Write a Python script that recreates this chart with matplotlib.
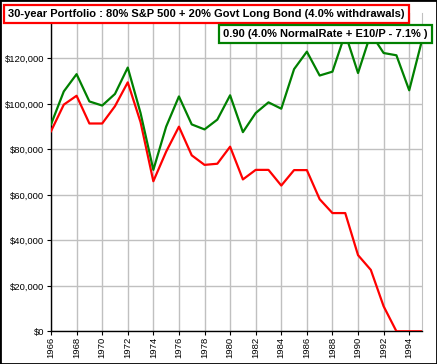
import matplotlib
matplotlib.use('Agg')
import matplotlib.pyplot as plt
from matplotlib.patches import Rectangle
from matplotlib.ticker import FuncFormatter

plt.rcParams['font.family'] = ['Liberation Sans', 'DejaVu Sans']

# 資料 (1966 - 1995)
years = list(range(1966, 1996))
fixed_rate = [88000, 99700, 103600, 91400, 91400, 99000, 109500, 92000, 66000, 79000,
              90000, 77400, 73200, 73700, 81200, 66800, 71000, 71000, 64100, 70900,
              70900, 58100, 52000, 52000, 33500, 27000, 11000, 0, 0, 0]
normal_rate = [91000, 105500, 113100, 101100, 99300, 104400, 116000, 96000, 71000, 90000,
               103300, 91000, 88800, 93100, 103800, 87600, 96000, 100700, 97900, 115300,
               123000, 112500, 114200, 131000, 113600, 131000, 122400, 121400, 106000, 128000]

yticks = [0, 20000, 40000, 60000, 80000, 100000, 120000]
xticks = list(range(1966, 1995, 2))

title1 = '30-year Portfolio : 80% S&P 500 + 20% Govt Long Bond (4.0% withdrawals)'
title2 = '0.90 (4.0% NormalRate + E10/P - 7.1% )'

fig = plt.figure(figsize=(4.37, 3.64), dpi=100)
ax = fig.add_axes([51 / 437, 1 - 331.3 / 364, (422 - 51) / 437, (331.3 - 13) / 364])

ax.plot(years, fixed_rate, color='#ff0000', linewidth=1.6, zorder=3)
ax.plot(years, normal_rate, color='#008000', linewidth=1.6, zorder=3)

ax.set_xlim(1966, 1995)
ax.set_ylim(0, 140000)
ax.set_xticks(xticks)
ax.set_yticks(yticks)
ax.yaxis.set_major_formatter(FuncFormatter(lambda v, p: '${:,.0f}'.format(v)))
ax.tick_params(axis='x', labelrotation=90, labelsize=6.8, length=3, width=0.8, pad=1)
ax.tick_params(axis='y', labelsize=6.8, length=3, width=0.8, pad=2)
ax.grid(True, color='#c0c0c0', linewidth=1.0)
ax.set_axisbelow(True)

for s in ['left', 'bottom']:
    ax.spines[s].set_color('black')
    ax.spines[s].set_linewidth(1.0)
ax.spines['right'].set_color('#c0c0c0')
ax.spines['top'].set_visible(False)

# 標題框
fig.text(8 / 437, 1 - 14 / 364, title1, fontsize=8.0, fontweight='bold', va='center', ha='left',
         bbox=dict(boxstyle='square,pad=0.4', facecolor='white', edgecolor='#ff0000', linewidth=1.6),
         zorder=10)
fig.text(223 / 437, 1 - 34 / 364, title2, fontsize=8.0, fontweight='bold', va='center', ha='left',
         bbox=dict(boxstyle='square,pad=0.4', facecolor='white', edgecolor='#008000', linewidth=1.6),
         zorder=11)

# 外框
fig.patches.append(Rectangle((0, 0), 1, 1, transform=fig.transFigure, fill=False,
                             edgecolor='black', linewidth=2.0, zorder=20))

plt.savefig('out.png', dpi=100)
